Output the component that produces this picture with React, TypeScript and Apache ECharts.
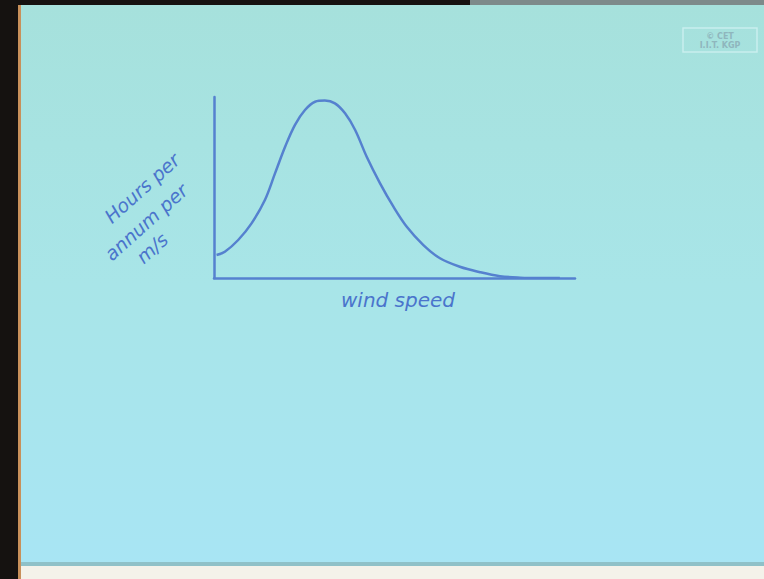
import React, { useEffect, useRef } from "react";
import * as echarts from "echarts";

// wind speed (relative units) and hours per annum per m/s (relative units)
const windSpeed = [0.7, 3.0, 6.7, 10.4, 14.1, 16.9, 19.7, 22.4, 25.2, 28.0, 30.7, 33.5, 36.3, 39.1, 42.3, 46.0, 49.7, 53.4, 58.0, 62.6, 68.1, 73.7, 79.2, 84.8, 90.3, 95.8];
const hoursPerAnnum = [12.7, 14.5, 21.0, 30.2, 43.1, 57.8, 72.5, 84.5, 92.8, 97.4, 98.0, 96.5, 91.0, 81.8, 67.0, 52.3, 39.4, 28.3, 18.2, 10.9, 6.2, 3.2, 1.0, 0.2, 0, 0];
const yLabelLines = ["Hours per", "annum per", "m/s"];
const xLabel = "wind speed";
const logoLines = ["© CET", "I.I.T. KGP"];

export default function App() {
  const ref = useRef<HTMLDivElement>(null);
  useEffect(() => {
    if (!ref.current) return;
    const chart = echarts.init(ref.current, null, { renderer: "svg" });
    const ink = "#5581cf";
    const hand = "DejaVu Sans";
    const yPos = [[142, 188], [146, 222], [152, 248]];
    chart.setOption({
      animation: false,
      backgroundColor: "#ffffff",
      grid: { left: 214, right: 189, top: 97, bottom: 301 },
      xAxis: {
        type: "value", min: 0, max: 100,
        axisLine: { lineStyle: { color: ink, width: 2.5 } },
        axisTick: { show: false }, axisLabel: { show: false }, splitLine: { show: false },
      },
      yAxis: {
        type: "value", min: 0, max: 100,
        axisLine: { show: true, lineStyle: { color: ink, width: 2.5 } },
        axisTick: { show: false }, axisLabel: { show: false }, splitLine: { show: false },
      },
      graphic: [
        { type: "rect", z: -10, shape: { x: 0, y: 0, width: 764, height: 579 }, style: { fill: "#f4f2ea" } },
        {
          type: "rect", z: -9, shape: { x: 18, y: 4, width: 746, height: 562 },
          style: {
            fill: new echarts.graphic.LinearGradient(0, 0, 0, 1, [
              { offset: 0, color: "#a6e1dc" },
              { offset: 0.5, color: "#a8e5e8" },
              { offset: 1, color: "#a8e5f4" },
            ]),
          },
        },
        { type: "rect", z: -8, shape: { x: 18, y: 562, width: 746, height: 4 }, style: { fill: "#8fc1c8" } },
        { type: "rect", z: -8, shape: { x: 0, y: 0, width: 18, height: 579 }, style: { fill: "#151210" } },
        { type: "rect", z: -8, shape: { x: 18, y: 0, width: 3, height: 579 }, style: { fill: "#c8905a" } },
        { type: "rect", z: -8, shape: { x: 0, y: 0, width: 470, height: 5 }, style: { fill: "#151210" } },
        { type: "rect", z: -8, shape: { x: 470, y: 0, width: 294, height: 5 }, style: { fill: "#7d8a8a" } },
        {
          type: "rect", shape: { x: 683, y: 28, width: 74, height: 24 },
          style: { fill: "none", stroke: "#c9eeee", lineWidth: 1.5 },
        },
        ...logoLines.map((t, i) => ({
          type: "text", x: 720, y: 36 + i * 9,
          style: { text: t, fill: "#8fb6bd", font: "bold 8px 'DejaVu Sans'", align: "center", verticalAlign: "middle" },
        })),
        {
          type: "text", x: 398, y: 300,
          style: { text: xLabel, fill: "#4a74cc", font: `italic 20px '${hand}'`, align: "center", verticalAlign: "middle" },
        },
        ...yLabelLines.map((t, i) => ({
          type: "text", x: yPos[i][0], y: yPos[i][1], rotation: 0.73,
          style: { text: t, fill: "#4a74cc", font: `italic 19px '${hand}'`, align: "center", verticalAlign: "middle" },
        })),
      ],
      series: [
        {
          type: "line", smooth: 0.35, symbol: "none",
          data: windSpeed.map((x, i) => [x, hoursPerAnnum[i]]),
          lineStyle: { color: ink, width: 2.5 },
        },
      ],
    });
    return () => chart.dispose();
  }, []);
  return <div ref={ref} style={{ position: "fixed", left: 0, top: 0, width: 764, height: 579 }} />;
}
